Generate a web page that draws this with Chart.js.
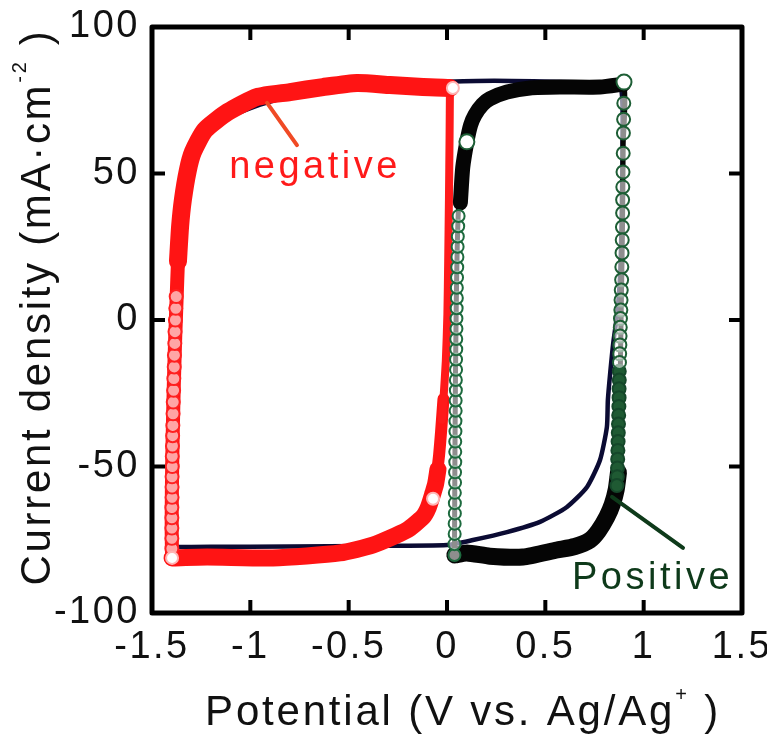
<!DOCTYPE html>
<html>
<head>
<meta charset="utf-8">
<script src="https://cdn.jsdelivr.net/npm/chart.js@4.4.1/dist/chart.umd.min.js"></script>
<style>
  html, body { margin: 0; padding: 0; background: #fff; }
  #wrap { position: relative; width: 767px; height: 734px; }
</style>
</head>
<body>
<div id="wrap"><canvas id="cv"></canvas></div>
<script>
// axis ticks
const xTicks = [-1.5, -1, -0.5, 0, 0.5, 1, 1.5];
const yTicks = [-100, -50, 0, 50, 100];

// full-window sweep (thin navy trace)
const fullX = [-1.400, -1.399, -1.396, -1.390, -1.382, -1.370, -1.345, -1.300, -1.240, -1.190, -1.100, -0.950, -0.750, -0.500, -0.250, 0.000, 0.150, 0.330, 0.550, 0.750, 0.880, 0.892, 0.888, 0.880, 0.865, 0.845, 0.830, 0.818, 0.813, 0.778, 0.712, 0.610, 0.473, 0.305, 0.132, 0.000, -0.400, -0.800, -1.200, -1.400];
const fullY = [-77.5, -60, -40, -15, 10, 28, 44, 55, 62, 65, 69.5, 73.5, 77, 79.5, 80.5, 81.3, 81.6, 81.6, 81.3, 81, 80.5, 60, 35, 15, 2, -8, -18, -27.3, -36.5, -47.8, -57, -63.8, -68.9, -72.4, -75.1, -76.8, -77.1, -77.3, -77.4, -77.5];

// negative electrode (red)
const negLeftX = [-1.398, -1.400, -1.399, -1.395, -1.389, -1.382, -1.375, -1.368, -1.360];
const negLeftY = [-81.2, -72, -58, -40, -22, -6, 7, 20, 30];
const negTopX = [-1.368, -1.357, -1.343, -1.318, -1.292, -1.231, -1.114, -0.966, -0.798, -0.631, -0.458, -0.290, -0.122, 0.015];
const negTopY = [20, 32, 41, 51, 57.3, 64.8, 71, 76.1, 77.8, 79.5, 80.9, 80.2, 79.5, 79.2];
const negRightX = [0.015, 0.013, 0.010, 0.006, 0.002, -0.006, -0.018, -0.026];
const negRightY = [79.2, 62, 42, 20, 2, -14, -27, -34];
const negBendX = [-0.018, -0.030, -0.040, -0.052];
const negBendY = [-27, -38, -46, -53];
const negBottomX = [-0.046, -0.058, -0.071, -0.095, -0.122, -0.204, -0.376, -0.544, -0.885, -1.220, -1.398];
const negBottomY = [-51, -56, -59, -64, -67.2, -71.7, -76.8, -79.5, -81.2, -80.9, -81.2];
const negRingX = [-1.399, -1.399, -1.399, -1.399, -1.399, -1.398, -1.398, -1.398, -1.397, -1.397, -1.396, -1.395, -1.394, -1.393, -1.392, -1.390, -1.389, -1.387, -1.386, -1.384, -1.383, -1.381, -1.379, -1.377];
const negRingY = [-78, -74.5, -71, -67.5, -64, -60.5, -57, -53.5, -50, -46.5, -43, -39.5, -36, -32, -28, -24, -20, -16, -12, -8, -4, 0, 4, 8];
const negDotX = [0.030, -0.071, -1.398];
const negDotY = [79.2, -61, -81.2];

// positive electrode (black trace + green circles)
const posLoopX = [0.038, 0.040, 0.043, 0.047, 0.052, 0.060, 0.075, 0.101, 0.142, 0.218, 0.305, 0.422, 0.574, 0.778, 0.898, 0.896, 0.892, 0.885, 0.878, 0.870, 0.860, 0.828, 0.813, 0.727, 0.559, 0.386, 0.218, 0.101, 0.038];
const posLoopY = [-80.2, -50, -20, 5, 25, 40, 50, 60.8, 70, 75.5, 77.8, 79.2, 79.5, 79.5, 80.5, 60, 30, 0, -30, -50, -57, -62, -67.2, -75.1, -78.5, -80.9, -80.6, -79.5, -80.2];
const posTopX = [0.068, 0.080, 0.101, 0.120, 0.142, 0.180, 0.218, 0.305, 0.422, 0.574, 0.778, 0.898];
const posTopY = [40, 52, 60.8, 66.5, 70, 73.5, 75.5, 77.8, 79.2, 79.5, 79.5, 80.5];
const posBottomX = [0.872, 0.860, 0.840, 0.813, 0.770, 0.727, 0.650, 0.559, 0.386, 0.218, 0.101, 0.040];
const posBottomY = [-52, -58, -63, -67.2, -72, -75.1, -77.3, -78.5, -80.9, -80.6, -79.5, -80.2];
const posRingLeftX = [0.038, 0.038, 0.039, 0.039, 0.040, 0.040, 0.040, 0.041, 0.041, 0.042, 0.042, 0.042, 0.043, 0.043, 0.044, 0.044, 0.045, 0.045, 0.046, 0.046, 0.047, 0.047, 0.048, 0.048, 0.049, 0.050, 0.050, 0.051, 0.052, 0.053, 0.054, 0.055, 0.057, 0.059];
const posRingLeftY = [-80.2, -76.5, -73, -69.5, -66, -62.5, -59, -55.5, -52, -48.5, -45, -41.5, -38, -34.5, -31, -27.5, -24, -20.5, -17, -13.5, -10, -6.5, -3, 0.5, 4, 7.5, 11, 14.5, 18, 21.5, 25, 28.5, 32, 35.5];
const posRingRightX = [0.899, 0.898, 0.897, 0.896, 0.895, 0.894, 0.893, 0.893, 0.892, 0.891, 0.890, 0.889, 0.888, 0.886, 0.885, 0.884, 0.882, 0.881, 0.880, 0.879, 0.878, 0.877];
const posRingRightY = [74, 68.5, 63.8, 56.9, 50.5, 45.4, 41, 36.5, 31.7, 27.3, 22.9, 18.1, 13.7, 10.2, 6.8, 3.4, 0.5, -2.5, -5.5, -8.5, -11.5, -14.5];
const posRingDarkX = [0.876, 0.876, 0.875, 0.875, 0.874, 0.873, 0.872, 0.871, 0.870, 0.869, 0.868, 0.867, 0.866, 0.864];
const posRingDarkY = [-17.5, -20.5, -23.5, -26.5, -29.5, -32.5, -35.5, -38.5, -41.5, -44.5, -47.5, -50.5, -53.5, -56.5];
const posDotX = [0.101, 0.900];
const posDotY = [60.8, 81.2];

const FONT = '"Liberation Sans", Arial, Helvetica, sans-serif';

function pts(xs, ys) {
    return xs.map((x, i) => ({ x: x, y: ys[i] }));
}

function trace(xs, ys, color, width, order) {
    return {
        data: pts(xs, ys),
        showLine: true,
        borderColor: color,
        borderWidth: width,
        borderCapStyle: 'round',
        borderJoinStyle: 'round',
        pointRadius: 0,
        tension: 0.2,
        order: order
    };
}

function rings(xs, ys, stroke, fill, radius, order) {
    return {
        data: pts(xs, ys),
        showLine: false,
        pointStyle: 'circle',
        pointRadius: radius,
        pointBorderWidth: 2,
        pointBorderColor: stroke,
        pointBackgroundColor: fill,
        order: order
    };
}

// draws the boxed frame with inward ticks on all four sides
const frameTicks = {
    id: 'frameTicks',
    beforeDraw(chart) {
        chart.ctx.letterSpacing = '2.5px';
    },
    afterDatasetsDraw(chart) {
        const { ctx, chartArea: a, scales: { x, y } } = chart;
        const len = 13;
        ctx.save();
        ctx.strokeStyle = '#000';
        ctx.lineWidth = 4;
        ctx.beginPath();
        x.ticks.forEach(t => {
            if (t.value <= x.min || t.value >= x.max) return;
            const px = x.getPixelForValue(t.value);
            ctx.moveTo(px, a.bottom); ctx.lineTo(px, a.bottom - len);
            ctx.moveTo(px, a.top); ctx.lineTo(px, a.top + len);
        });
        y.ticks.forEach(t => {
            if (t.value <= y.min || t.value >= y.max) return;
            const py = y.getPixelForValue(t.value);
            ctx.moveTo(a.left, py); ctx.lineTo(a.left + len, py);
            ctx.moveTo(a.right, py); ctx.lineTo(a.right - len, py);
        });
        ctx.stroke();
        ctx.lineWidth = 5;
        ctx.lineJoin = 'round';
        ctx.strokeRect(a.left, a.top, a.right - a.left, a.bottom - a.top);
        ctx.restore();
    }
};

// "negative" / "Positive" labels with leader lines (placed in data units)
const notes = {
    id: 'notes',
    afterDatasetsDraw(chart, args, opts) {
        const { ctx, scales: { x, y } } = chart;
        opts.items.forEach(n => {
            ctx.save();
            ctx.strokeStyle = n.lineColor;
            ctx.lineWidth = 4;
            ctx.lineCap = 'round';
            ctx.beginPath();
            ctx.moveTo(x.getPixelForValue(n.from[0]), y.getPixelForValue(n.from[1]));
            ctx.lineTo(x.getPixelForValue(n.to[0]), y.getPixelForValue(n.to[1]));
            ctx.stroke();
            ctx.font = '38px ' + FONT;
            ctx.letterSpacing = '3.5px';
            ctx.fillStyle = n.color;
            ctx.textAlign = 'center';
            ctx.textBaseline = 'alphabetic';
            ctx.fillText(n.text, x.getPixelForValue(n.at[0]), y.getPixelForValue(n.at[1]));
            ctx.restore();
        });
    }
};

function drawRich(ctx, parts, cx, baseY) {
    const main = '42px ' + FONT, sup = '20px ' + FONT;
    let w = 0;
    parts.forEach(p => { ctx.font = p.sup ? sup : main; w += ctx.measureText(p.t).width; });
    let px = cx - w / 2;
    parts.forEach(p => {
        ctx.font = p.sup ? sup : main;
        ctx.fillText(p.t, px, baseY - (p.sup ? 24 : 0));
        px += ctx.measureText(p.t).width;
    });
}

const axisTitles = {
    id: 'axisTitles',
    afterDraw(chart) {
        const ctx = chart.ctx;
        ctx.save();
        ctx.fillStyle = '#111';
        ctx.textAlign = 'left';
        ctx.textBaseline = 'alphabetic';
        ctx.letterSpacing = '2.8px';
        drawRich(ctx, [
            { t: 'Potential (V vs. Ag/Ag' },
            { t: '+', sup: true },
            { t: ' )' }
        ], 463, 725);
        ctx.translate(50, 307);
        ctx.rotate(-Math.PI / 2);
        ctx.letterSpacing = '2.7px';
        drawRich(ctx, [
            { t: 'Current density (mA' },
            { t: '\u00b7', sup: false },
            { t: 'cm' },
            { t: '-2', sup: true },
            { t: ' )' }
        ], 0, 0);
        ctx.restore();
    }
};

new Chart(document.getElementById('cv'), {
    type: 'scatter',
    data: {
        datasets: [
            trace(fullX, fullY, '#0b0b33', 4.5, 20),
            trace(negLeftX, negLeftY, '#ff1414', 14, 15),
            trace(negTopX, negTopY, '#ff1414', 18, 14),
            trace(negRightX, negRightY, '#ff1a1a', 8, 14),
            trace(negBendX, negBendY, '#ff1414', 12, 14),
            trace(negBottomX, negBottomY, '#ff1414', 17, 14),
            rings(negRingX, negRingY, '#ff2020', 'rgba(255,190,190,0.85)', 6.5, 13),
            trace(posLoopX, posLoopY, '#050505', 5, 12),
            trace(posTopX, posTopY, '#050505', 15, 11),
            trace(posBottomX, posBottomY, '#050505', 17, 11),
            rings(posRingLeftX, posRingLeftY, '#1d6a3e', 'rgba(255,255,255,0.55)', 6, 6),
            rings(posRingRightX, posRingRightY, '#1d5e35', 'rgba(255,255,255,0.55)', 6.5, 6),
            rings(posRingDarkX, posRingDarkY, '#15472a', '#1f5a33', 6.5, 6),
            rings(negDotX, negDotY, '#ffb4b4', '#ffffff', 6, 2),
            rings(posDotX, posDotY, '#1d5e35', '#ffffff', 7.5, 2)
        ]
    },
    options: {
        responsive: true,
        maintainAspectRatio: false,
        animation: false,
        events: [],
        layout: { padding: { top: 27, right: 25, left: 0, bottom: 0 } },
        font: { family: FONT },
        plugins: {
            legend: { display: false },
            tooltip: { enabled: false },
            notes: {
                items: [
                    { text: 'negative', at: [-0.671, 48.5], from: [-0.915, 74.1], to: [-0.763, 59.7], color: '#ff1a1a', lineColor: '#f04a25' },
                    { text: 'Positive', at: [1.045, -91.8], from: [0.839, -60.4], to: [1.2, -77.8], color: '#0e3a1a', lineColor: '#0e3a1a' }
                ]
            }
        },
        scales: {
            x: {
                type: 'linear',
                min: xTicks[0],
                max: xTicks[xTicks.length - 1],
                afterBuildTicks: s => { s.ticks = xTicks.map(v => ({ value: v })); },
                ticks: { color: '#111', font: { size: 38, family: FONT }, padding: 12, maxRotation: 0, autoSkip: false, callback: v => String(v) },
                grid: { display: false, drawTicks: false },
                border: { display: false },
                afterFit: s => { s.height = 121; s.paddingLeft = 0; s.paddingRight = 0; }
            },
            y: {
                type: 'linear',
                min: yTicks[0],
                max: yTicks[yTicks.length - 1],
                afterBuildTicks: s => { s.ticks = yTicks.map(v => ({ value: v })); },
                ticks: { color: '#111', font: { size: 38, family: FONT }, padding: 12, autoSkip: false, callback: v => String(v) },
                grid: { display: false, drawTicks: false },
                border: { display: false },
                afterFit: s => { s.width = 152; s.paddingTop = 0; s.paddingBottom = 0; }
            }
        }
    },
    plugins: [frameTicks, notes, axisTitles]
});
</script>
</body>
</html>
